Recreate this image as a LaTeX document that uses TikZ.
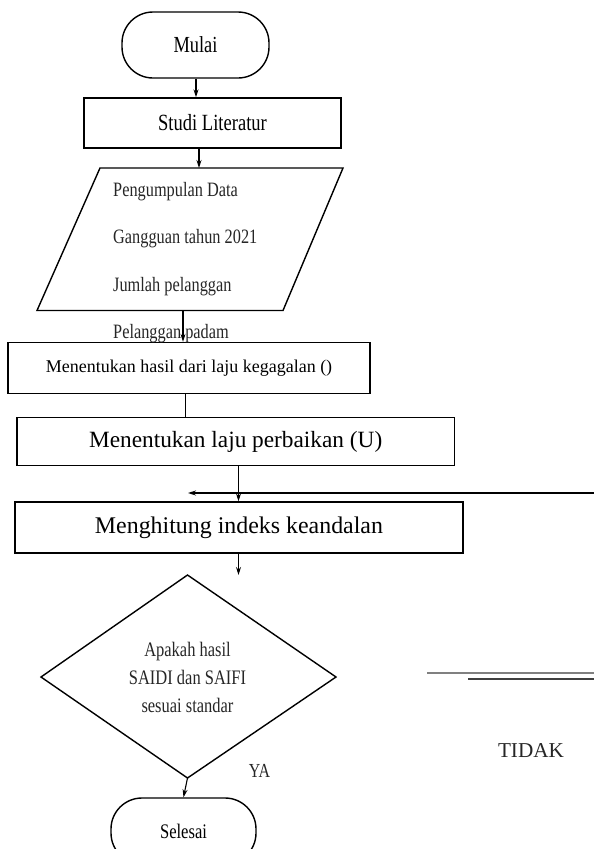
\documentclass[tikz,border=0pt]{standalone}
\usepackage{fontspec}
\setmainfont{Liberation Serif}
\newfontfamily\cond[FakeStretch=0.8]{Liberation Serif}
\usetikzlibrary{arrows.meta}
\tikzset{
  box/.style={draw, line width=1.4pt, inner sep=0pt, align=center},
  term/.style={box, rounded corners=31pt},
  arr/.style={line width=1.1pt, -{Stealth[length=8pt,width=5pt]}},
  plain/.style={line width=1.1pt},
  outl/.style={line width=1.4pt, line join=miter},
  lbl/.style={inner sep=0pt, text=black!85},
}
\begin{document}
\begin{tikzpicture}[x=1pt,y=-1pt]
\useasboundingbox (0,0) rectangle (594,849);
% terminator start
\node[term, minimum width=147pt, minimum height=66pt, font=\cond\fontsize{23}{27}\selectfont] (mulai) at (195.5,45) {Mulai};
\node[box, minimum width=257pt, minimum height=50pt, font=\cond\fontsize{23.2}{27}\selectfont] (studi) at (212.5,123) {Studi Literatur};
% parallelogram
\coordinate (pTL) at (100,168);
\coordinate (pTR) at (343,168);
\coordinate (pBR) at (283,310.5);
\coordinate (pBL) at (37,310.5);
\draw[outl] (pTL) -- (pTR) -- (pBR) -- (pBL) -- cycle;
\tikzset{ptxt/.style={lbl, anchor=west, font=\cond\fontsize{20.4}{24}\selectfont}}
\node[ptxt] (d1) at (113,192) {Pengumpulan Data};
\node[ptxt] (d2) at (113,239) {Gangguan tahun 2021};
\node[ptxt] (d3) at (113,287) {Jumlah pelanggan};
% boxes
\node[box, minimum width=362pt, minimum height=51pt, font=\fontsize{18}{22}\selectfont] (hasil) at (189,368) {Menentukan hasil dari laju kegagalan ()};
\node[ptxt] (d4) at (113,334) {Pelanggan padam};
\node[box, minimum width=437.5pt, minimum height=48pt, font=\fontsize{23.3}{27}\selectfont] (perb) at (235.7,441.5) {Menentukan laju perbaikan (U)};
\node[box, minimum width=448pt, minimum height=51pt, font=\fontsize{23.9}{28}\selectfont] (indeks) at (239,527.5) {Menghitung indeks keandalan};
% decision
\coordinate (dT) at (187.5,575);
\coordinate (dR) at (336,677);
\coordinate (dB) at (187.5,778);
\coordinate (dL) at (41,677);
\draw[outl] (dT) -- (dR) -- (dB) -- (dL) -- cycle;
\node[lbl, align=center, font=\cond\fontsize{20.6}{28}\selectfont] (dec) at (187.5,677)
  {Apakah hasil\\SAIDI dan SAIFI\\sesuai standar};
\node[term, minimum width=145pt, minimum height=66pt, font=\cond\fontsize{20.7}{25}\selectfont] (selesai) at (183.5,831) {Selesai};
% labels
\node[lbl, font=\cond\fontsize{19.9}{24}\selectfont] (ya) at (259.5,771) {YA};
\node[lbl, font=\fontsize{21.2}{25}\selectfont] (tidak) at (531,751) {TIDAK};
% connectors
\coordinate (a1) at (196,0);
\coordinate (a2) at (199,168);
\coordinate (a3) at (183,310.5);
\coordinate (a4) at (185.6,0);
\coordinate (a5) at (238.5,0);
\coordinate (a6) at (238.5,575);
\coordinate (fbR) at (600,493);
\coordinate (fbL) at (188,493);
\draw[arr] (mulai.south -| a1) -- (studi.north -| a1);
\draw[arr] (studi.south -| a2) -- (a2);
\draw[arr] (a3) -- (hasil.north -| a3);
\draw[plain] (hasil.south -| a4) -- (perb.north -| a4);
\draw[arr] (perb.south -| a5) -- (indeks.north -| a5);
\draw[arr] (fbR) -- (fbL);
\draw[arr] (indeks.south -| a5) -- (a6);
\draw[arr] (dB) -- (selesai.north);
% double line on the right
\coordinate (g1a) at (427,672.5);
\coordinate (g1b) at (600,672.5);
\coordinate (g2a) at (468,679);
\coordinate (g2b) at (600,679);
\draw[line width=2pt, black!50] (g1a) -- (g1b);
\draw[line width=2pt, black!75] (g2a) -- (g2b);
\end{tikzpicture}
\end{document}
